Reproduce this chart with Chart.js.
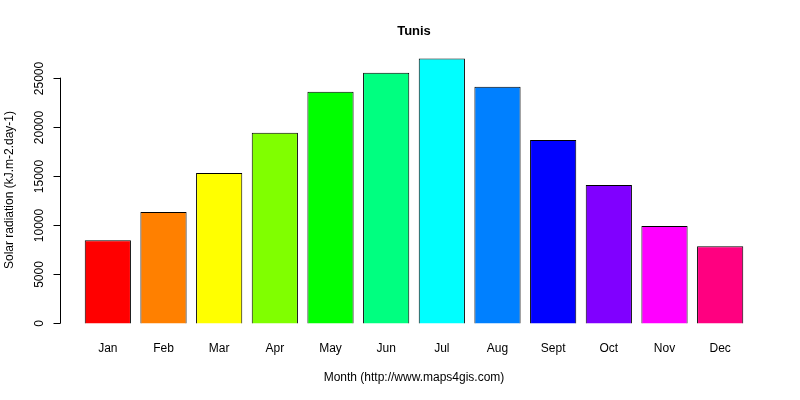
<!DOCTYPE html>
<html><head><meta charset="utf-8">
<script src="https://cdn.jsdelivr.net/npm/chart.js@4"></script>
<style>body{margin:0;background:#fff}#w{width:800px;height:400px}</style>
</head><body><div id="w"><canvas id="c"></canvas></div>
<script>
const months = ["Jan","Feb","Mar","Apr","May","Jun","Jul","Aug","Sept","Oct","Nov","Dec"];
const radiation = [8470,11330,15300,19390,23570,25500,26940,24080,18670,14080,9900,7860];
const colors = ["#FF0000","#FF8000","#FFFF00","#80FF00","#00FF00","#00FF80","#00FFFF","#0080FF","#0000FF","#8000FF","#FF00FF","#FF0080"];
const yTicks = [0,5000,10000,15000,20000,25000];
const F = '"Liberation Sans", Arial, sans-serif';
const deco = {
  id:'deco',
  afterDraw(ch){
    const c=ch.ctx, y=ch.scales.y, x=ch.scales.x;
    c.save(); c.strokeStyle='#000'; c.fillStyle='#000'; c.lineWidth=1;
    const ax=60.5;
    c.beginPath(); c.moveTo(ax,y.getPixelForValue(0)); c.lineTo(ax,y.getPixelForValue(25000)); c.stroke();
    c.font='12px '+F; c.textAlign='center'; c.textBaseline='middle';
    yTicks.forEach(v=>{const p=Math.round(y.getPixelForValue(v))+0.5;
      c.beginPath(); c.moveTo(ax,p); c.lineTo(ax-7,p); c.stroke();
      c.save(); c.translate(40,p); c.rotate(-Math.PI/2); c.fillText(String(v),0,0); c.restore();});
    months.forEach((m,i)=>c.fillText(m,x.getPixelForValue(i),349));
    c.fillText('Month (http://www.maps4gis.com)',414,378);
    c.save(); c.translate(10,190); c.rotate(-Math.PI/2); c.fillText('Solar radiation (kJ.m-2.day-1)',0,0); c.restore();
    c.font='bold 13px '+F; c.fillText('Tunis',414,31);
    c.restore();
  }
};
new Chart(document.getElementById('c'),{
  type:'bar',
  data:{labels:months,datasets:[{data:radiation,backgroundColor:colors,borderColor:'#000',borderWidth:1,categoryPercentage:1,barPercentage:0.83}]},
  options:{responsive:true,maintainAspectRatio:false,animation:false,
    layout:{padding:{left:80,right:52,top:48,bottom:66}},
    plugins:{legend:{display:false},tooltip:{enabled:false}},
    scales:{x:{display:false},y:{display:false,min:-1078,max:28018}}},
  plugins:[deco]
});
</script></body></html>
